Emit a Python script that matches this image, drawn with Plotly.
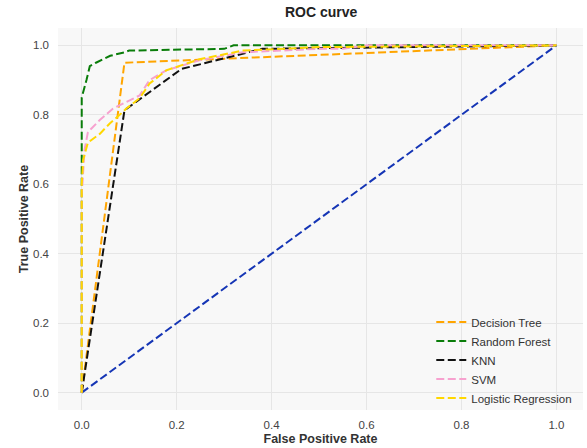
import plotly.graph_objects as go

# Decision Tree
dt_fpr = [0.0, 0.09, 1.0]
dt_tpr = [0.0, 0.95, 1.0]
# Random Forest
rf_fpr = [0.0, 0.0, 0.0, 0.01, 0.017, 0.03, 0.06, 0.09, 0.10, 0.30, 0.32, 1.0]
rf_tpr = [0.0, 0.58, 0.85, 0.90, 0.94, 0.95, 0.97, 0.98, 0.985, 0.99, 1.0, 1.0]
# KNN
knn_fpr = [0.0, 0.09, 0.21, 0.38, 1.0]
knn_tpr = [0.0, 0.813, 0.932, 0.99, 1.0]
# SVM
svm_fpr = [0.0, 0.0, 0.006, 0.013, 0.02, 0.038, 0.066, 0.094, 0.122, 0.143, 0.178, 0.248, 0.339, 0.5, 0.55, 0.6, 1.0]
svm_tpr = [0.0, 0.57, 0.70, 0.75, 0.76, 0.785, 0.818, 0.837, 0.856, 0.90, 0.928, 0.957, 0.98, 0.99, 0.99, 1.0, 1.0]
# Logistic Regression
lr_fpr = [0.0, 0.0, 0.003, 0.013, 0.038, 0.059, 0.08, 0.094, 0.122, 0.143, 0.178, 0.248, 0.34, 0.5, 1.0]
lr_tpr = [0.0, 0.60, 0.67, 0.72, 0.745, 0.775, 0.80, 0.818, 0.848, 0.89, 0.928, 0.96, 0.985, 0.995, 1.0]
# Chance line
diag_x = [0.0, 1.0]
diag_y = [0.0, 1.0]

series = [
    ("Decision Tree", dt_fpr, dt_tpr, "#FFA500"),
    ("Random Forest", rf_fpr, rf_tpr, "#0a7d0a"),
    ("KNN", knn_fpr, knn_tpr, "#111111"),
    ("SVM", svm_fpr, svm_tpr, "#f7a1cf"),
    ("Logistic Regression", lr_fpr, lr_tpr, "#FFD700"),
]

DASH = "8px,3.5px"

fig = go.Figure()
fig.add_trace(go.Scatter(x=diag_x, y=diag_y, mode="lines", showlegend=False,
                         line=dict(color="#1535b5", width=2, dash=DASH)))
for name, x, y, c in series:
    fig.add_trace(go.Scatter(x=x, y=y, mode="lines", name=name,
                             line=dict(color=c, width=2, dash=DASH)))

fig.update_layout(
    width=587, height=448,
    margin=dict(l=58, r=4, t=28, b=38),
    paper_bgcolor="white", plot_bgcolor="#f8f8f8",
    font=dict(family="Liberation Sans, Arial, sans-serif", size=11.5, color="#333333"),
    title=dict(text="<b>ROC curve</b>", x=0.547, xanchor="center", y=0.974, yanchor="middle",
               font=dict(size=14, color="#222222")),
    legend=dict(x=0.711, y=0.268, xanchor="left", yanchor="top", bgcolor="rgba(0,0,0,0)",
                font=dict(size=11.5, color="#333333"), tracegroupgap=0, itemwidth=30),
    showlegend=True,
)
fig.update_xaxes(range=[-0.05, 1.056], tickvals=[0, 0.2, 0.4, 0.6, 0.8, 1.0],
                 ticktext=["0.0", "0.2", "0.4", "0.6", "0.8", "1.0"],
                 gridcolor="#e6e6e6", gridwidth=1, zeroline=False, showline=False,
                 tickfont=dict(color="#444444"), ticks="", ticklabelstandoff=6,
                 title=dict(text="<b>False Positive Rate</b>", standoff=4, font=dict(size=12.5, color="#333333")))
fig.update_yaxes(range=[-0.05, 1.05], tickvals=[0, 0.2, 0.4, 0.6, 0.8, 1.0],
                 ticktext=["0.0", "0.2", "0.4", "0.6", "0.8", "1.0"],
                 gridcolor="#e6e6e6", gridwidth=1, zeroline=False, showline=False,
                 tickfont=dict(color="#444444"), ticks="", ticklabelstandoff=8,
                 title=dict(text="<b>True Positive Rate</b>", standoff=1, font=dict(size=12.5, color="#333333")))

fig.write_html("out.html")
